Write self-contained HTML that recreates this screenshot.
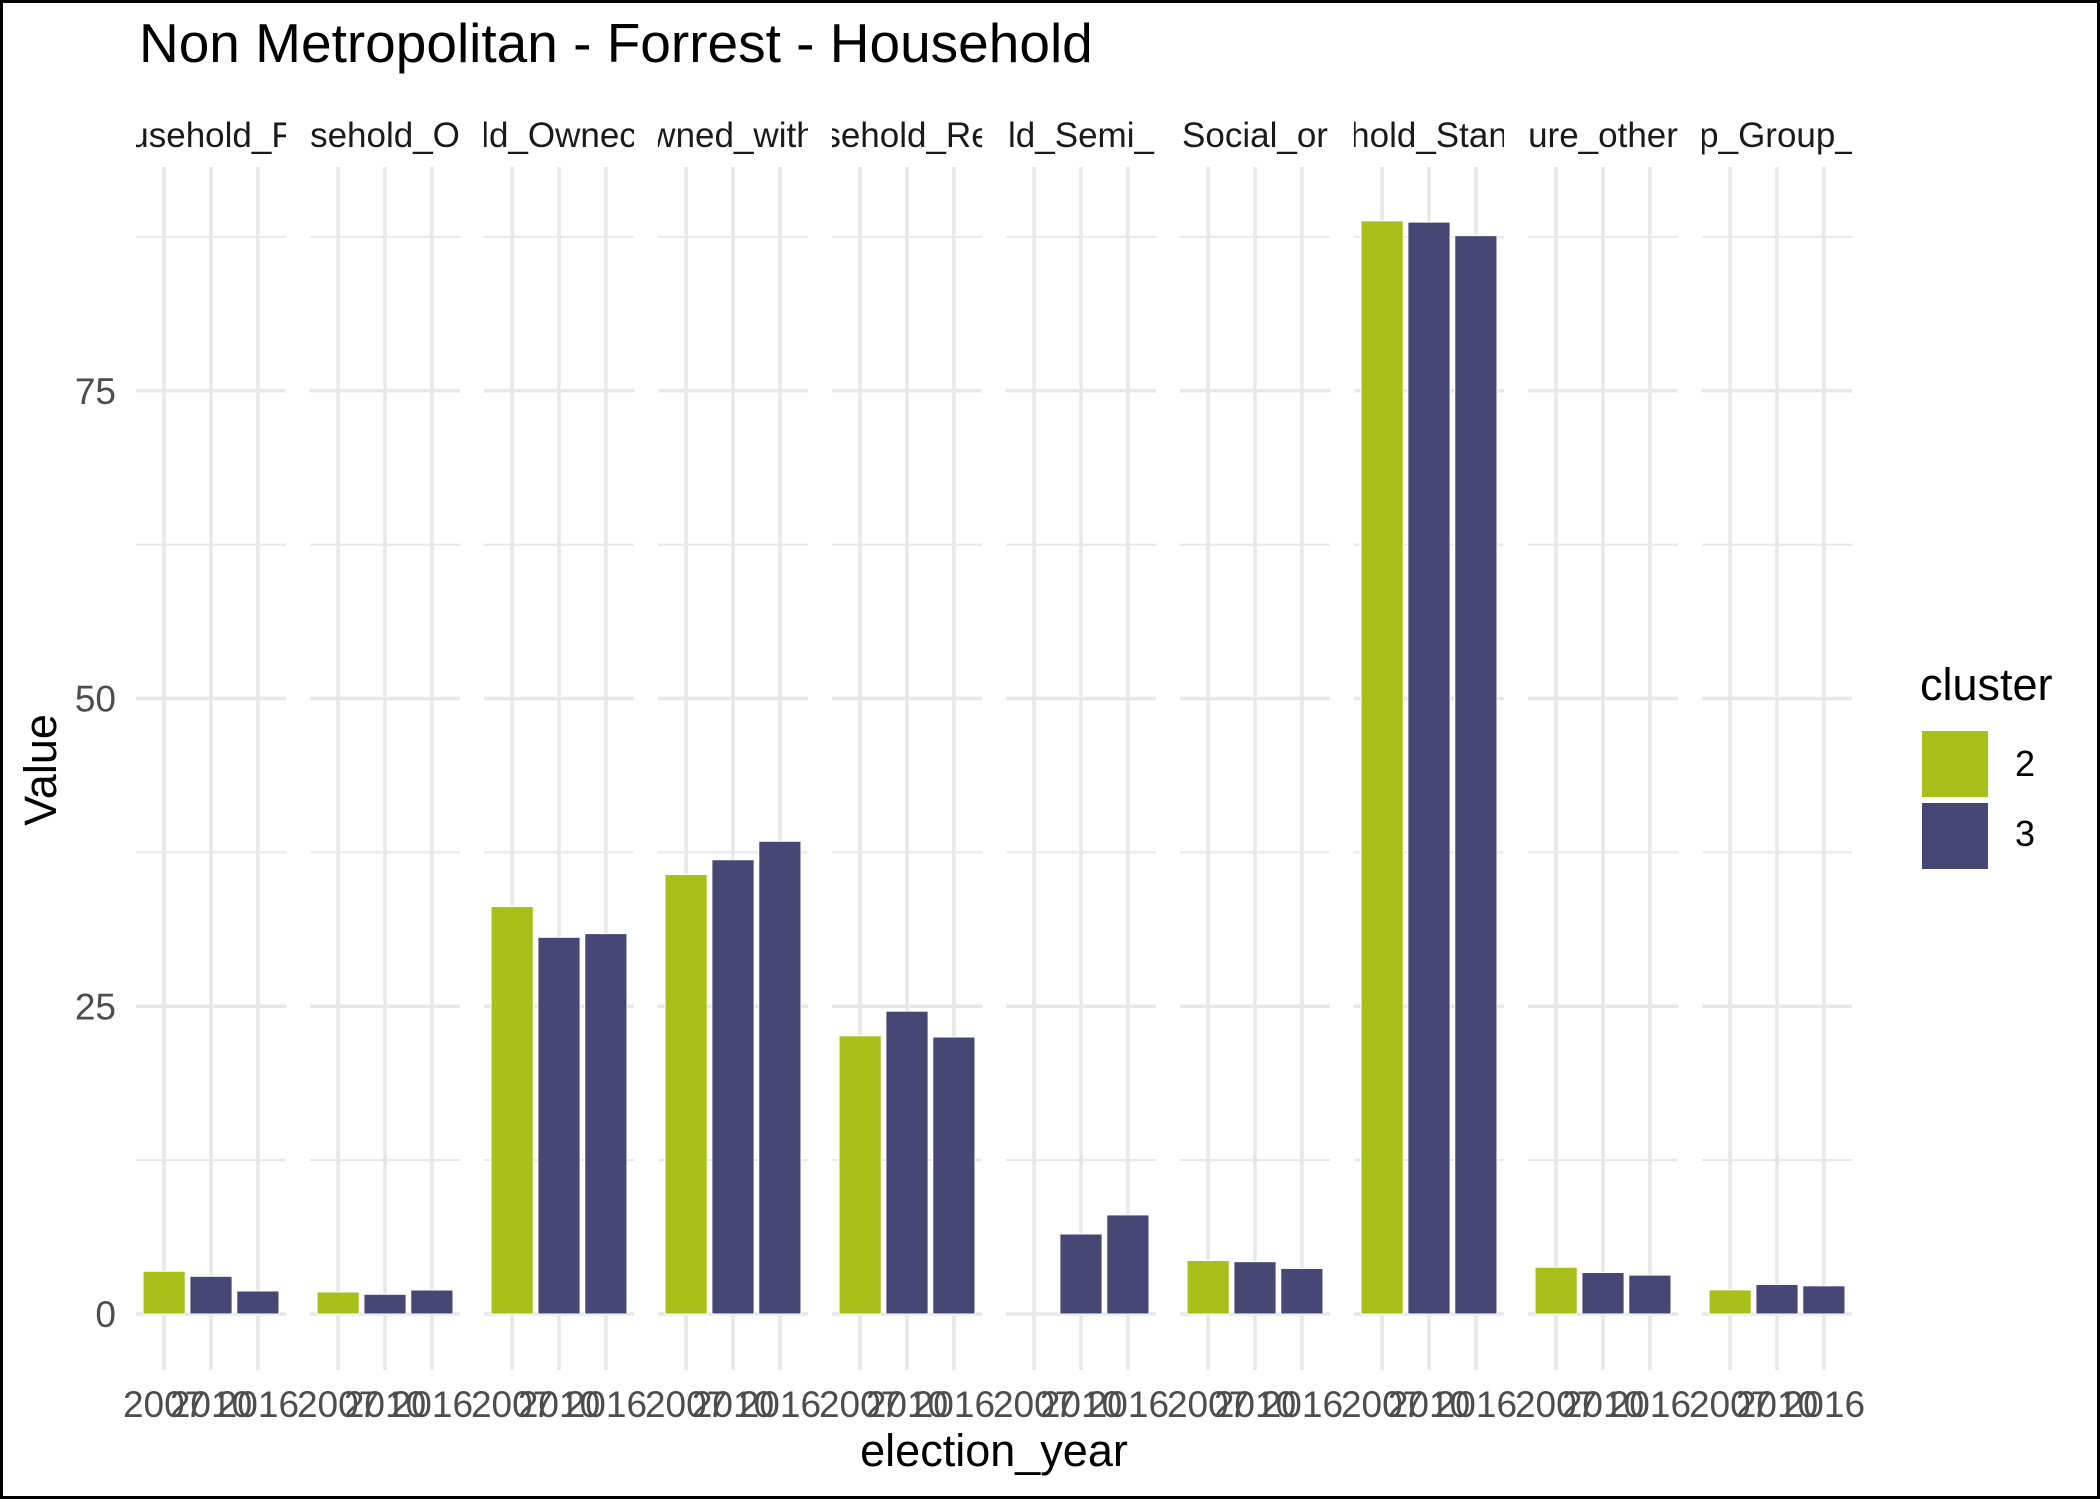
<!DOCTYPE html>
<html><head><meta charset="utf-8"><style>
html,body{margin:0;padding:0;background:#fff;}
svg{display:block;font-family:"Liberation Sans",Arial,sans-serif;}
</style></head><body>
<svg id="chart" width="2100" height="1499" viewBox="0 0 2100 1499" xmlns="http://www.w3.org/2000/svg">
<rect x="1.5" y="1.5" width="2097" height="1496" fill="#fff" stroke="#000" stroke-width="3"/>
<text x="139" y="62" font-size="55" fill="#000">Non Metropolitan - Forrest - Household</text>
<g id="panels"></g>
<g id="yticks"></g>
<text x="994" y="1466" font-size="45" text-anchor="middle" fill="#000">election_year</text>
<text transform="translate(56,770) rotate(-90)" font-size="45" text-anchor="middle" fill="#000">Value</text>
<g>
<text x="1920" y="700" font-size="45" fill="#000">cluster</text>
<rect x="1922" y="731" width="66" height="66" fill="#A8C01A"/>
<text x="2015" y="776" font-size="36" fill="#000">2</text>
<rect x="1922" y="803" width="66" height="66" fill="#464775"/>
<text x="2015" y="846" font-size="36" fill="#000">3</text>
</g>
</svg>
<script>
const panelLabels = ["usehold_F","sehold_O","ld_Ownec","wned_with","sehold_Re","ld_Semi_","Social_or","hold_Stan","ure_other","p_Group_"];
const years = ["2007","2010","2016"];
const yearCluster = ["2","3","3"];
const values2007 = [3.47,1.79,33.1,35.7,22.6,null,4.35,88.8,3.8,1.96];
const values2010 = [3.06,1.6,30.6,36.9,24.6,6.5,4.25,88.7,3.37,2.4];
const values2016 = [1.87,1.95,30.9,38.4,22.5,8.05,3.7,87.6,3.16,2.29];
const yTicks = [0,25,50,75];
const yMinor = [12.5,37.5,62.5,87.5];

const NS = "http://www.w3.org/2000/svg";
const colors = {"2":"#A8C01A","3":"#464775"};
const panelLeft = 136, panelW = 150, panelGap = 24, panelTop = 167, panelBottom = 1370;
function yScale(v){ return 1314 - v * 12.31; }
function xScale(p, i){ return panelLeft + p*(panelW+panelGap) + (i + 1 - 0.4) * (panelW/3.2); }
function mk(tag, attrs, parent){ const e = document.createElementNS(NS, tag); for (const k in attrs) e.setAttribute(k, attrs[k]); parent.appendChild(e); return e; }

const svg = document.getElementById('chart');
const panels = document.getElementById('panels');
const defs = mk('defs', {}, svg);
const series = [values2007, values2010, values2016];

panelLabels.forEach((lab, p) => {
  const px = panelLeft + p*(panelW+panelGap);
  const g = mk('g', {}, panels);
  
  
  yMinor.forEach(v => {
    const l = mk('line', {x1:px, x2:px+panelW, y1:yScale(v), y2:yScale(v), stroke:'#E8E8E8', 'stroke-width':2}, g);
    
    
  });
  yTicks.forEach(v => {
    const l = mk('line', {x1:px, x2:px+panelW, y1:yScale(v), y2:yScale(v), stroke:'#E8E8E8', 'stroke-width':3.5}, g);
    
    
  });
  years.forEach((yr, i) => {
    const x = xScale(p, i);
    const l = mk('line', {x1:x, x2:x, y1:panelTop, y2:panelBottom, stroke:'#E8E8E8', 'stroke-width':3.5}, g);
    
    
  });
  years.forEach((yr, i) => {
    const v = series[i][p];
    if (v === null || v === undefined) return;
    const x = xScale(p, i), w = 0.9*(panelW/3.2);
    const r = mk('rect', {x:x-w/2, y:yScale(v), width:w, height:yScale(0)-yScale(v), fill:colors[yearCluster[i]], stroke:'#fff', 'stroke-width':1}, g);
    
    
  });
  years.forEach((yr, i) => {
    const t = mk('text', {x:xScale(p, i), y:1417, 'font-size':37, 'text-anchor':'middle', fill:'#4D4D4D'}, g);
    t.textContent = yr;
    
    
  });
  const cp = mk('clipPath', {id:'clip'+p}, defs);
  mk('rect', {x:px, y:100, width:panelW, height:70}, cp);
  const st = mk('text', {x:px+panelW/2, y:147, 'font-size':35, 'text-anchor':'middle', fill:'#1A1A1A', 'clip-path':'url(#clip'+p+')'}, g);
  st.textContent = lab;
  
  
});

const yt = document.getElementById('yticks');
yTicks.forEach(v => {
  const t = mk('text', {x:116, y:yScale(v)+13, 'font-size':37, 'text-anchor':'end', fill:'#4D4D4D'}, yt);
  t.textContent = v;
  
  
});
</script>
</body></html>
